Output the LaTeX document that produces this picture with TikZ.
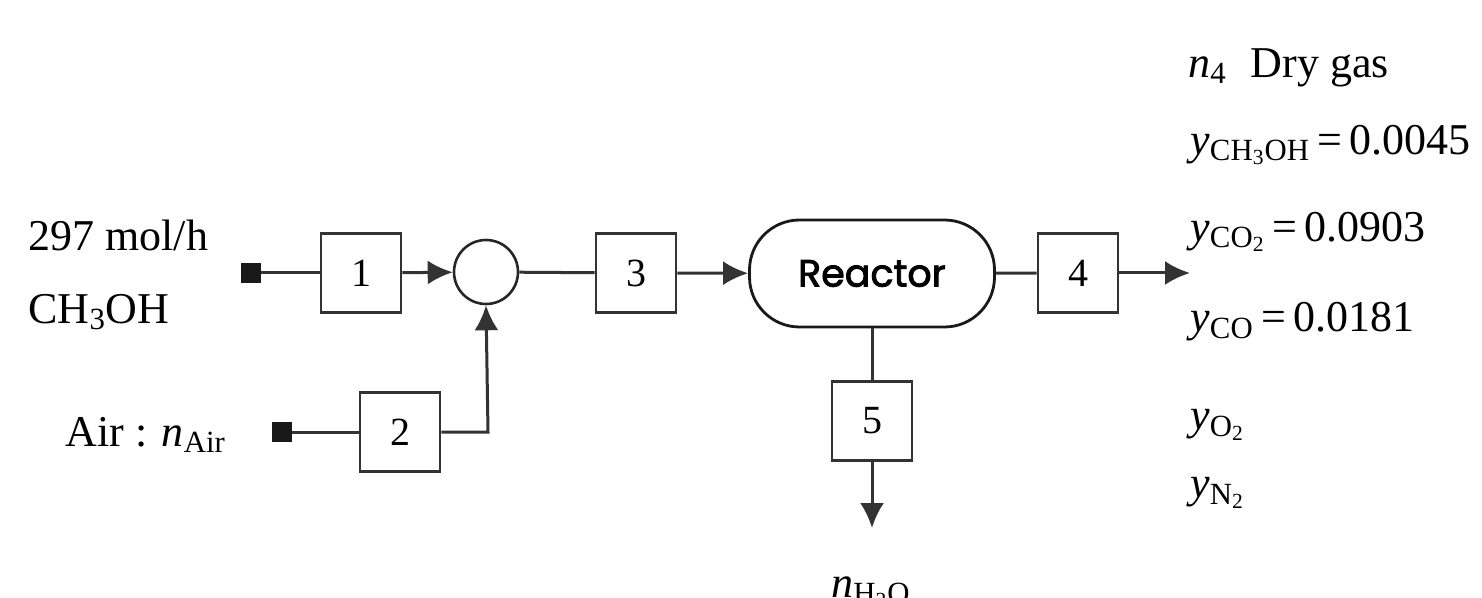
\documentclass[tikz,border=0pt]{standalone}
\usepackage{fontspec}
\setmainfont{Liberation Serif}
\newfontfamily\rfont{Poppins}[FakeBold=2.2]
\usetikzlibrary{arrows.meta}
\newcommand{\vs}[2]{\textit{#1}\textsubscript{#2}}
\tikzset{
  ln/.style={line width=1.5pt, draw=black!80},
  arr/.style={ln, -{Latex[length=12.5pt,width=12pt]}},
  blk/.style={draw=black!80, line width=1.3pt, minimum width=40pt, minimum height=39.5pt, inner sep=0pt, font=\fontsize{20}{24}\selectfont},
  src/.style={fill=black!90, minimum size=10pt, inner sep=0pt},
  lbl/.style={font=\fontsize{22}{26}\selectfont, inner sep=0pt},
}
\begin{document}
\begin{tikzpicture}[x=0.5pt,y=-0.5pt]
\useasboundingbox (0,0) rectangle (1482,598);
% sources
\node[src] (s1) at (251,273) {};
\node[src] (s2) at (282,432) {};
% blocks
\node[blk] (b1) at (361,273) {1};
\node[blk] (b2) at (400,432) {2};
\node[blk] (b3) at (636,273) {3};
\node[blk] (b4) at (1078,273) {4};
\node[blk] (b5) at (872,421) {5};
\node[draw=black!85, line width=1.3pt, circle, minimum size=32pt, inner sep=0pt] (mix) at (486,272) {};
\node[draw=black!90, line width=1.4pt, rounded corners=25pt, minimum width=122.5pt, minimum height=53.5pt, font=\rfont\fontsize{19}{22}\selectfont] (r) at (872,273.5) {Reactor};
\coordinate (out4) at (1190,273);
\coordinate (out5) at (872,528);
\coordinate (corner) at (488,432);
% connectors
\draw[ln] (s1) -- (b1);
\draw[arr] (b1) -- (mix);
\draw[ln] (s2) -- (b2);
\draw[arr] (b2.east) -- (corner) -- (mix.south);
\draw[ln] (mix) -- (b3);
\draw[arr] (b3) -- (r);
\draw[ln] (r) -- (b4);
\draw[arr] (b4) -- (out4);
\draw[ln] (r.south) -- (b5.north);
\draw[arr] (b5) -- (out5);
% labels
\node[lbl, anchor=west] (t1) at (28,235) {297 mol/h};
\node[lbl, anchor=west] (t2) at (28,312) {CH\textsubscript{3}OH};
\node[lbl, anchor=west] (t3) at (65,435) {Air : \vs{n}{Air}};
\node[lbl, anchor=west] (o1) at (1188,68) {\vs{n}{4}\hspace{12pt}Dry gas};
\node[lbl, anchor=west] (o2) at (1190,145) {\vs{y}{CH\textsubscript{3}OH}\,=\,0.0045};
\node[lbl, anchor=west] (o3) at (1190,232) {\vs{y}{CO\textsubscript{2}}\,=\,0.0903};
\node[lbl, anchor=west] (o4) at (1190,322) {\vs{y}{CO}\,=\,0.0181};
\node[lbl, anchor=west] (o5) at (1190,425) {\vs{y}{O\textsubscript{2}}};
\node[lbl, anchor=west] (o6) at (1190,493) {\vs{y}{N\textsubscript{2}}};
\node[lbl] (w) at (871,592) {\vs{n}{H\textsubscript{2}O}};
\end{tikzpicture}
\end{document}
